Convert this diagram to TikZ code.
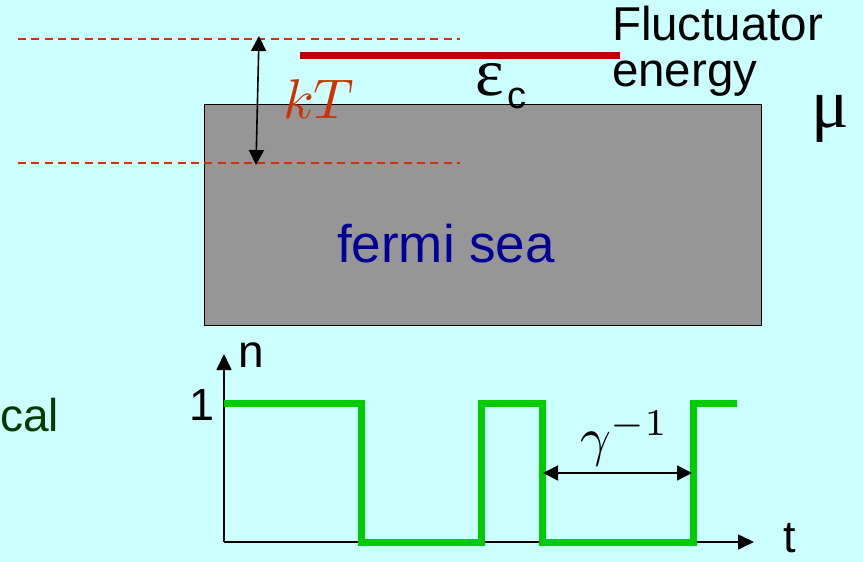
\documentclass[tikz,border=0pt]{standalone}
\usepackage{graphicx}
\usepackage{fontspec}
\setmainfont{Liberation Sans}
\newfontfamily\serifsym{Liberation Serif}
\usetikzlibrary{arrows.meta}
\definecolor{bgc}{RGB}{204,255,255}
\definecolor{kTc}{RGB}{204,51,0}
\definecolor{barc}{RGB}{192,0,0}
\definecolor{seac}{RGB}{150,150,150}
\definecolor{bluec}{RGB}{0,0,153}
\definecolor{darkg}{RGB}{0,60,0}
\definecolor{sig}{RGB}{0,204,0}
\tikzset{
  lbl/.style={inner sep=0pt, outer sep=0pt},
  fsz/.style={font=\fontsize{#1}{#1}\selectfont},
  dashlvl/.style={kTc, line width=1.2pt, dash pattern=on 8pt off 5.3pt},
  dblarrow/.style={line width=1.6pt, {Triangle[length=15pt,width=15pt]}-{Triangle[length=15pt,width=15pt]}},
  axisarrow/.style={line width=1.6pt, -{Triangle[length=16pt,width=15pt]}},
  signal/.style={sig, line width=7pt, line join=miter}
}
\begin{document}
\begin{tikzpicture}[x=1pt,y=-1pt]
\fill[bgc] (0,0) rectangle (863,562);
\useasboundingbox (0,0) rectangle (863,562);
% fermi sea box
\node[draw=black, line width=1.3pt, fill=seac, minimum width=557pt, minimum height=221pt, anchor=north west, inner sep=0pt] (sea) at (204,104) {};
% dashed kT levels
\coordinate (d1a) at (18,39); \coordinate (d1b) at (460,39);
\coordinate (d2a) at (18,163); \coordinate (d2b) at (460,163);
\draw[dashlvl] (d1a) -- (d1b);
\draw[dashlvl] (d2a) -- (d2b);
% kT arrow
\coordinate (ktop) at (259,36); \coordinate (kbot) at (256,165);
\draw[dblarrow] (kbot) -- (ktop);
\node[lbl, font=\fontsize{10}{12}\selectfont, text=kTc, anchor=base west] (kT) at (283,118) {\scalebox{5.6}{$kT$}};
% fluctuator level
\coordinate (bara) at (300,55.5); \coordinate (barb) at (620,55.5);
\draw[barc, line width=7pt] (bara) -- (barb);
\node[lbl, fsz=68, anchor=base west] (eps) at (475,95) {\serifsym ε};
\node[lbl, fsz=38, anchor=base west] (epsc) at (507,108) {c};
\node[lbl, fsz=47.5, anchor=base west] (fl1) at (612,40) {Fluctuator};
\node[lbl, fsz=47.5, anchor=base west] (fl2) at (612,86) {energy};
\node[lbl, fsz=70, anchor=base west] (mu) at (811,127) {\serifsym μ};
\node[lbl, fsz=53, text=bluec, anchor=base] (fs) at (446,262) {fermi sea};
\node[lbl, fsz=46, text=darkg, anchor=base east] (cal) at (59,431) {cal};
% axes
\coordinate (O) at (224,542);
\coordinate (ytip) at (224,354);
\coordinate (xtip) at (754,542);
\draw[axisarrow] (O) -- (ytip);
\draw[axisarrow] (O) -- (xtip);
\node[lbl, fsz=46, anchor=base west] (n) at (238,367) {n};
\node[lbl, fsz=45, anchor=base east] (one) at (215,420) {1};
\node[lbl, fsz=45, anchor=base west] (t) at (783,552) {t};
% signal
\draw[signal] (224,403) -- (361,403) -- (361,542) -- (481,542) -- (481,403) -- (542,403) -- (542,542) -- (693,542) -- (693,403) -- (737,403);
% gamma arrow
\coordinate (ga) at (543,473); \coordinate (gb) at (692,473);
\draw[dblarrow] (ga) -- (gb);
\node[lbl, font=\fontsize{10}{12}\selectfont, anchor=base west] (gam) at (580,455) {\scalebox{5.4}{$\gamma^{-1}$}};
\end{tikzpicture}
\end{document}
